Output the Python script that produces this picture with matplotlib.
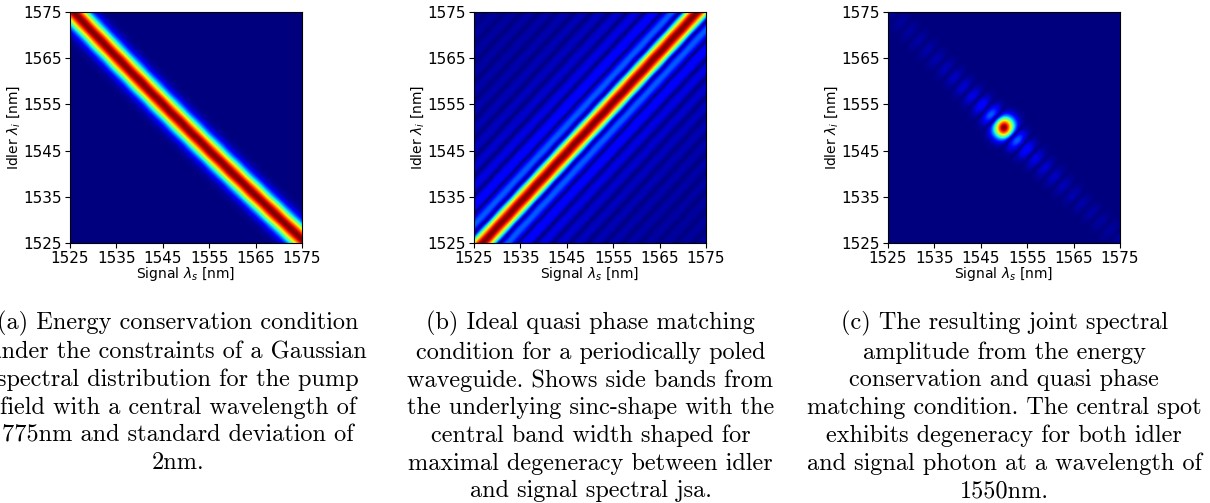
#!/usr/bin/env python3
"""
Joint spectral amplitude panels: energy conservation, phase matching, JSA.
"""
import numpy as np
import matplotlib
matplotlib.use("Agg")
import matplotlib.pyplot as plt

# Wavelength window and ticks (nm)
wl_min, wl_max = 1525, 1575
ticks = [1525, 1535, 1545, 1555, 1565, 1575]
n_grid = 220

# Parameters
pump_center = 775.0      # nm
pump_sigma = 0.58        # nm, in pump wavelength (gives ~2.3 nm band width in signal)
degenerate = 1550.0      # nm
pm_slope = 1.08          # tilt of the phase matching ridge
pm_zero_spacing = 4.1    # nm, spacing of sinc zeros across the ridge

captions = [
    "(a) Energy conservation condition\nunder the constraints of a Gaussian\n"
    "spectral distribution for the pump\nfield with a central wavelength of\n"
    "775nm and standard deviation of\n2nm.",
    "(b) Ideal quasi phase matching\ncondition for a periodically poled\n"
    "waveguide. Shows side bands from\nthe underlying sinc-shape with the\n"
    "central band width shaped for\nmaximal degeneracy between idler\n"
    "and signal spectral jsa.",
    "(c) The resulting joint spectral\namplitude from the energy\n"
    "conservation and quasi phase\nmatching condition. The central spot\n"
    "exhibits degeneracy for both idler\nand signal photon at a wavelength of\n"
    "1550nm.",
]
caption_x = [0.147, 0.488, 0.830]

# Build the maps
wl = np.linspace(wl_min, wl_max, n_grid)
ls, li = np.meshgrid(wl, wl)
lp = 1.0 / (1.0 / ls + 1.0 / li)
energy = np.exp(-(lp - pump_center) ** 2 / (2 * pump_sigma ** 2))
u = (li - degenerate) - pm_slope * (ls - degenerate)
phase = np.abs(np.sinc(u / pm_zero_spacing))
jsa = energy * phase
jsa = jsa / jsa.max()

maps = [energy, phase, jsa]

fig = plt.figure(figsize=(12.1, 5.03), dpi=100)
lefts = [70 / 1210, 474 / 1210, 888 / 1210]
for left, data in zip(lefts, maps):
    ax = fig.add_axes([left, 1 - 243 / 503, 232 / 1210, 231 / 503])
    ax.imshow(data, cmap='jet', origin='lower', aspect='auto',
              extent=[wl_min, wl_max, wl_min, wl_max])
    ax.set_xticks(ticks)
    ax.set_yticks(ticks)
    ax.tick_params(labelsize=11, pad=2.5)
    ax.set_xlabel(r'Signal $\lambda_s$ [nm]', fontsize=10, labelpad=-1)
    ax.set_ylabel(r'Idler $\lambda_i$ [nm]', fontsize=10, labelpad=1)

for x, text in zip(caption_x, captions):
    fig.text(x, 1 - 311 / 503, text, ha='center', va='top',
             multialignment='center', family='cmr10', fontsize=17.5,
             linespacing=1.31)

plt.savefig("out.png", dpi=100)
